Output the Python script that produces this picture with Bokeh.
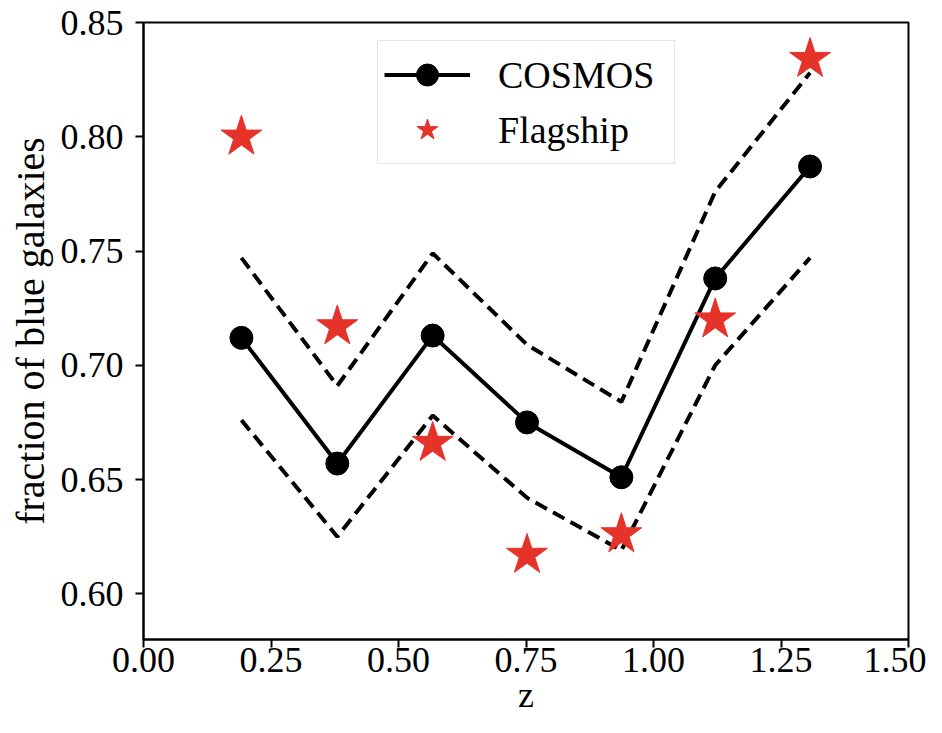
from bokeh.plotting import figure
from bokeh.models import FixedTicker, PrintfTickFormatter, Legend, LegendItem, Range1d
from bokeh.embed import file_html
from bokeh.resources import INLINE

# ---- data ----
z = [0.192, 0.380, 0.567, 0.752, 0.937, 1.121, 1.307]
cosmos = [0.712, 0.657, 0.713, 0.675, 0.651, 0.738, 0.787]
cosmos_upper = [0.747, 0.691, 0.749, 0.709, 0.684, 0.776, 0.828]
cosmos_lower = [0.676, 0.625, 0.678, 0.642, 0.619, 0.700, 0.747]
flagship = [0.800, 0.717, 0.666, 0.617, 0.626, 0.720, 0.834]
x_ticks = [0.0, 0.25, 0.5, 0.75, 1.0, 1.25, 1.5]
y_ticks = [0.60, 0.65, 0.70, 0.75, 0.80, 0.85]

FONT = "Liberation Serif"
RED = "#e5332a"

p = figure(width=926, height=717, output_backend="svg", toolbar_location=None,
           x_range=Range1d(0.0, 1.5), y_range=Range1d(0.58, 0.85),
           min_border_left=143, min_border_right=18, min_border_top=22, min_border_bottom=70)
p.grid.visible = False
p.outline_line_color = "black"
p.outline_line_width = 2
p.background_fill_color = "white"
p.border_fill_color = "white"

# dashed bounds
p.line(z, cosmos_upper, line_color="black", line_width=4, line_dash="13 7")
p.line(z, cosmos_lower, line_color="black", line_width=4, line_dash="13 7")

# COSMOS
r_line = p.line(z, cosmos, line_color="black", line_width=4)
r_circ = p.scatter(z, cosmos, marker="circle", size=23, fill_color="black", line_color="black")

# Flagship
r_star = p.scatter(z, flagship, marker="star", size=43, fill_color=RED, line_color=RED)

legend = Legend(items=[LegendItem(label="COSMOS", renderers=[r_line, r_circ]),
                       LegendItem(label="Flagship", renderers=[r_star])],
                location=(234, 475))
legend.label_text_font = FONT
legend.label_text_font_size = "38px"
legend.label_text_color = "black"
legend.glyph_width = 86
legend.glyph_height = 55
legend.label_height = 40
legend.label_width = 170
legend.label_standoff = 28
legend.spacing = 0
legend.padding = 6
legend.margin = 0
legend.border_line_color = "#cccccc"
legend.border_line_width = 1.5
legend.background_fill_color = "white"
legend.background_fill_alpha = 0.8
p.add_layout(legend)

for ax in (p.xaxis, p.yaxis):
    ax.axis_line_color = "black"
    ax.axis_line_width = 2
    ax.major_tick_line_color = "black"
    ax.major_tick_line_width = 2
    ax.major_tick_out = 8
    ax.major_tick_in = 0
    ax.minor_tick_line_color = None
    ax.major_label_text_font = FONT
    ax.major_label_text_font_size = "36px"
    ax.major_label_text_color = "black"
    ax.axis_label_text_font = FONT
    ax.axis_label_text_font_style = "normal"
    ax.axis_label_text_color = "black"

p.xaxis.ticker = FixedTicker(ticks=x_ticks)
p.yaxis.ticker = FixedTicker(ticks=y_ticks)
p.xaxis.formatter = PrintfTickFormatter(format="%.2f")
p.yaxis.formatter = PrintfTickFormatter(format="%.2f")
p.xaxis.major_label_standoff = 0
p.yaxis.major_label_standoff = 12
p.xaxis.axis_label = "z"
p.yaxis.axis_label = "fraction of blue galaxies"
p.xaxis.axis_label_text_font_size = "36px"
p.yaxis.axis_label_text_font_size = "40px"
p.xaxis.axis_label_standoff = 0
p.yaxis.axis_label_standoff = 5

open("out.html", "w").write(file_html(p, INLINE))
